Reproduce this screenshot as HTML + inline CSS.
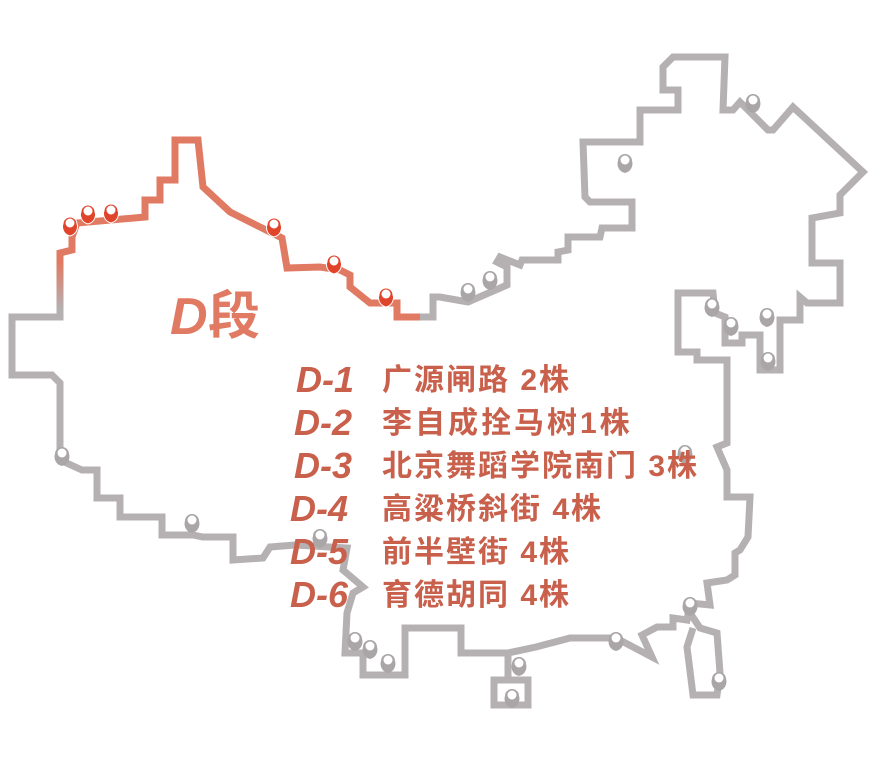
<!DOCTYPE html>
<html><head><meta charset="utf-8"><style>
body{margin:0;background:#fff;width:876px;height:764px;overflow:hidden}
svg{display:block}
.t{font-family:"Liberation Sans","Noto Sans CJK SC",sans-serif;fill:#c8604c;font-weight:bold}
.d{font-family:"Liberation Sans",sans-serif;font-style:italic;font-weight:bold;fill:#c8604c}
</style></head><body>
<svg width="876" height="764" viewBox="0 0 876 764">
<defs>
<linearGradient id="gl" gradientUnits="userSpaceOnUse" x1="0" y1="262" x2="0" y2="310">
<stop offset="0" stop-color="#e07a62"/><stop offset="1" stop-color="#b5b1b3"/></linearGradient>
<g id="pr"><path d="M0,0 C-8,-2 -8,-10 -7,-12 A7,7 0 1 1 7,-12 C8,-10 8,-2 0,0Z" fill="#e0452c" stroke="#fff" stroke-width="1"/><circle cx="0" cy="-13" r="4.5" fill="#fff"/></g>
<g id="pg"><path d="M0,0 C-8,-2 -8,-10 -7,-12 A7,7 0 1 1 7,-12 C8,-10 8,-2 0,0Z" fill="#aaa5a7"/><circle cx="0" cy="-13" r="4.5" fill="#fff"/></g>
</defs>
<g fill="none" stroke="#b5b1b3" stroke-width="7" stroke-linejoin="miter">
<polyline points="60,300 60,317 12,317 12,375 52,375 60,383 60,460 82,470 97,470 97,498 120,498 120,517 162,517 162,535 193,535 203,537 233,537 233,560 263,558 270,547 295,545 347,548 343,570 363,587 353,593 347,613 345,653 363,653 363,675 405,675 405,628 461,628 461,653 508,653 536,647 570,638 616,638 652,657 642,635 657,627 673,627 673,618 687,620 690,603 710,605 707,583 727,580 735,575 735,553 740,550 748,537 750,497 727,497 727,470 717,447 727,443 727,360 697,360 697,352 678,352 678,293 713,293 715,313 725,317 725,343 742,343 742,335 760,335 760,370 780,370 780,320 800,320 800,297 807,303 840,303 840,263 812,263 812,218 840,213 840,195 863,172 793,107 773,130 768,130 740,102 733,110 723,110 725,57 673,57 663,67 663,90 678,90 678,110 640,110 640,142 583,142 585,197 590,202 632,202 632,228 602,228 600,237 568,237 568,250 558,252 558,260 522,260 520,265 500,257 497,262 507,267 507,285 468,302 440,297 433,297 433,317 415,317"/>
<polyline points="508,653 508,680 494,680 494,705 528,705 528,680 508,680"/>
<polyline points="690,613 700,628 717,633 720,673 717,695 693,695 687,647 693,628"/>
</g>
<polyline fill="none" stroke="#e07a62" stroke-width="7" points="420,317 397,317 397,303 370,303 350,287 350,275 340,270 320,267 287,268 282,238 230,212 203,187 198,140 175,140 175,180 160,180 160,200 145,200 145,217 77,223 72,237 72,250 60,253 60,266"/>
<line x1="60" y1="262" x2="60" y2="310" stroke="url(#gl)" stroke-width="7"/>
<use href="#pr" x="70" y="236"/><use href="#pr" x="88" y="224"/><use href="#pr" x="111" y="223"/>
<use href="#pr" x="274" y="237"/><use href="#pr" x="334" y="274"/><use href="#pr" x="386" y="307"/>
<use href="#pg" x="468" y="302"/><use href="#pg" x="490" y="290"/><use href="#pg" x="625" y="173"/>
<use href="#pg" x="753" y="113"/><use href="#pg" x="712" y="317"/><use href="#pg" x="731" y="336"/>
<use href="#pg" x="767" y="327"/><use href="#pg" x="768" y="371"/><use href="#pg" x="62" y="466"/>
<use href="#pg" x="192" y="533"/><use href="#pg" x="320" y="548"/><use href="#pg" x="355" y="651"/>
<use href="#pg" x="370" y="659"/><use href="#pg" x="388" y="673"/><use href="#pg" x="519" y="676"/>
<use href="#pg" x="512" y="708"/><use href="#pg" x="616" y="651"/><use href="#pg" x="690" y="616"/>
<use href="#pg" x="719" y="691"/><use href="#pg" x="685" y="464"/>
<text x="170" y="334" class="d" font-size="52" style="fill:#e07a62">D</text>
<text x="208" y="334" class="t" font-size="52" style="fill:#e07a62">段</text>
<g font-size="36">
<text x="296" y="392" class="d">D-1</text><text x="382" y="390" class="t" font-size="30" letter-spacing="2">广源闸路  2株</text>
<text x="294" y="435" class="d">D-2</text><text x="382" y="433" class="t" font-size="30" letter-spacing="3">李自成拴马树1株</text>
<text x="294" y="478" class="d">D-3</text><text x="382" y="476" class="t" font-size="30" letter-spacing="2">北京舞蹈学院南门  3株</text>
<text x="290" y="521" class="d">D-4</text><text x="382" y="519" class="t" font-size="30" letter-spacing="2">高粱桥斜街  4株</text>
<text x="290" y="564" class="d">D-5</text><text x="382" y="562" class="t" font-size="30" letter-spacing="2">前半壁街  4株</text>
<text x="290" y="607" class="d">D-6</text><text x="382" y="605" class="t" font-size="30" letter-spacing="2">育德胡同  4株</text>
</g>
</svg>
</body></html>
